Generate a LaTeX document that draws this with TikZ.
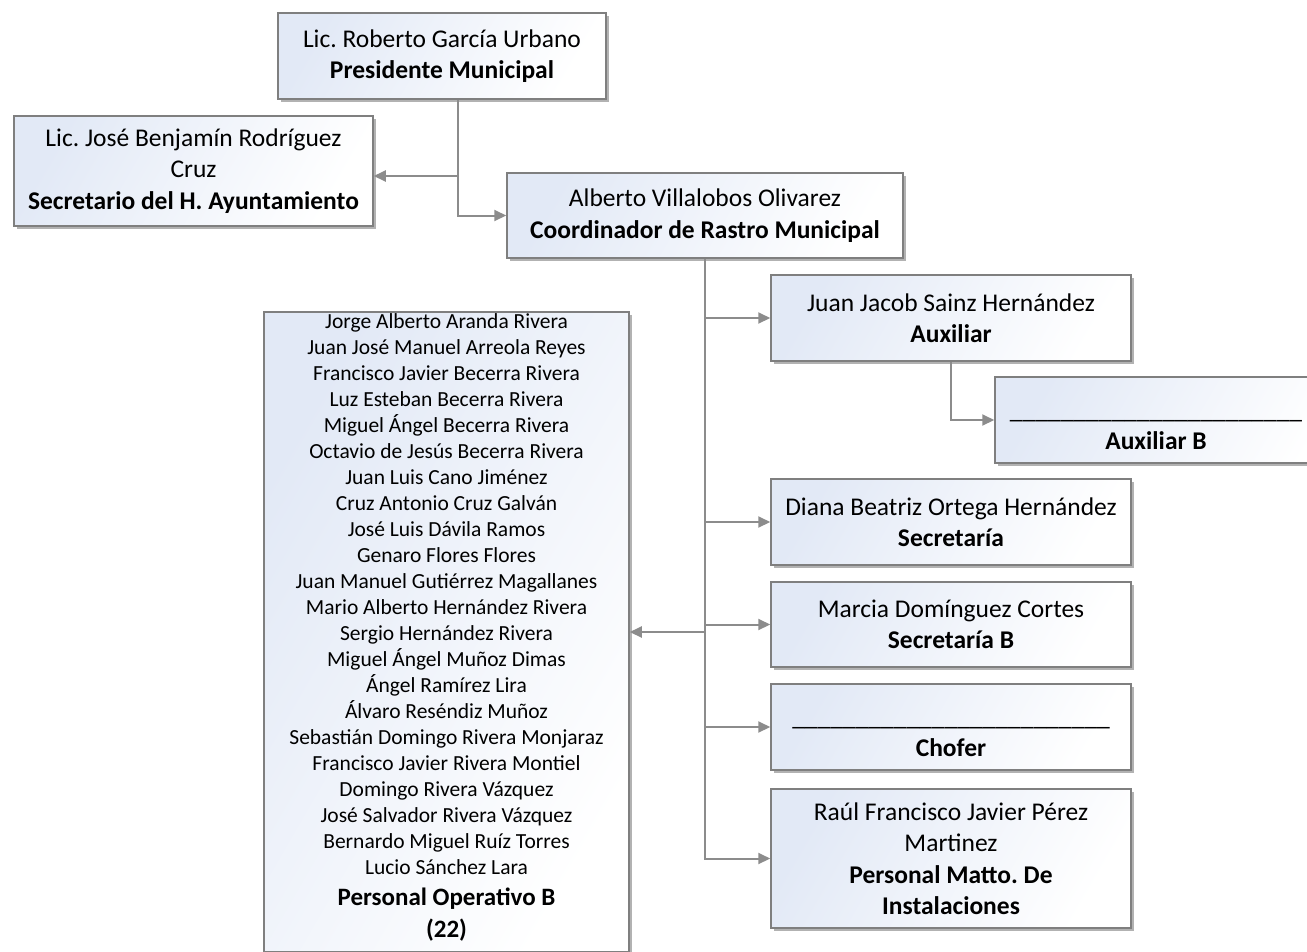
\documentclass[tikz,border=0pt]{standalone}
\usepackage{fontspec}
\setmainfont{Carlito}
\usetikzlibrary{arrows.meta,shadows}
\definecolor{boxblue}{HTML}{E2E9F6}
\definecolor{edgegray}{HTML}{7F7F7F}
\definecolor{conngray}{HTML}{8C8C8C}
\tikzset{
  orgbox/.style={draw=edgegray, line width=1.5pt, top color=boxblue, bottom color=white,
    shading angle=60,
    drop shadow={shadow xshift=2.5pt, shadow yshift=-2.5pt, fill=black, opacity=0.3},
    align=center, inner sep=0pt, font=\fontsize{25.5}{31.5}\selectfont},
  plaintext/.style={align=center, inner sep=0pt, font=\fontsize{25.5}{31.5}\selectfont},
  listtext/.style={align=center, inner sep=0pt, font=\fontsize{21.5}{26}\selectfont},
  link/.style={draw=conngray, line width=2pt, -{Triangle[length=12pt,width=11pt]}},
}
\begin{document}
\frenchspacing
\begin{tikzpicture}[x=1pt,y=-1pt]
\useasboundingbox[fill=white] (0,0) rectangle (1307,951);

\node[orgbox, minimum width=328pt, minimum height=86pt] (pres) at (442,56)
  {Lic. Roberto García Urbano\\\textbf{Presidente Municipal}};
\node[orgbox, minimum width=359pt, minimum height=110pt] (sec) at (193.5,171)
  {Lic. José Benjamín Rodríguez\\Cruz\\\textbf{Secretario del H. Ayuntamiento}};
\node[orgbox, minimum width=396pt, minimum height=85pt] (coord) at (705,215.5)
  {Alberto Villalobos Olivarez\\\textbf{Coordinador de Rastro Municipal}};
\node[orgbox, minimum width=360pt, minimum height=86pt] (juan) at (951,318)
  {Juan Jacob Sainz Hernández\\\textbf{Auxiliar}};
\node[orgbox, minimum width=360pt, minimum height=86pt] (auxb) at (1175,420) {};
\node[plaintext] (auxbtext) at (1156,434)
  {\_\_\_\_\_\_\_\_\_\_\_\_\_\_\_\_\_\_\_\_\_\_\_\\\textbf{Auxiliar B}};
\node[orgbox, minimum width=360pt, minimum height=86pt] (diana) at (951,522)
  {Diana Beatriz Ortega Hernández\\\textbf{Secretaría}};
\node[orgbox, minimum width=360pt, minimum height=85pt] (marcia) at (951,624.5)
  {Marcia Domínguez Cortes\\\textbf{Secretaría B}};
\node[orgbox, minimum width=360pt, minimum height=86pt] (chofer) at (951,727) {};
\node[plaintext] (chofertext) at (951,741)
  {\_\_\_\_\_\_\_\_\_\_\_\_\_\_\_\_\_\_\_\_\_\_\_\_\_\\\textbf{Chofer}};
\node[orgbox, minimum width=360pt, minimum height=139pt] (raul) at (951,858.5)
  {Raúl Francisco Javier Pérez\\Martinez\\\textbf{Personal Matto. De}\\\textbf{Instalaciones}};
\node[orgbox, minimum width=365pt, minimum height=640pt] (ops) at (446.5,632) {};
\node[listtext] (opstext) at (446.5,627)
  {Jorge Alberto Aranda Rivera\\
   Juan José Manuel Arreola Reyes\\
   Francisco Javier Becerra Rivera\\
   Luz Esteban Becerra Rivera\\
   Miguel Ángel Becerra Rivera\\
   Octavio de Jesús Becerra Rivera\\
   Juan Luis Cano Jiménez\\
   Cruz Antonio Cruz Galván\\
   José Luis Dávila Ramos\\
   Genaro Flores Flores\\
   Juan Manuel Gutiérrez Magallanes\\
   Mario Alberto Hernández Rivera\\
   Sergio Hernández Rivera\\
   Miguel Ángel Muñoz Dimas\\
   Ángel Ramírez Lira\\
   Álvaro Reséndiz Muñoz\\
   Sebastián Domingo Rivera Monjaraz\\
   Francisco Javier Rivera Montiel\\
   Domingo Rivera Vázquez\\
   José Salvador Rivera Vázquez\\
   Bernardo Miguel Ruíz Torres\\
   Lucio Sánchez Lara\\[5pt]
   {\fontsize{25}{32}\selectfont\bfseries Personal Operativo B}\\[6pt]
   {\fontsize{25}{32}\selectfont\bfseries (22)}};

\draw[link] ([xshift=16pt]pres.south) |- ([yshift=-5pt]sec.east);
\draw[link] ([xshift=16pt]pres.south) |- (coord.west);
\draw[link] (coord.south) |- (juan.west);
\draw[link] (juan.south) |- (auxb.west);
\draw[link] (coord.south) |- (diana.west);
\draw[link] (coord.south) |- (marcia.west);
\draw[link] (coord.south) |- (chofer.west);
\draw[link] (coord.south) |- (raul.west);
\draw[link] (coord.south) |- (ops.east);
\end{tikzpicture}
\end{document}
